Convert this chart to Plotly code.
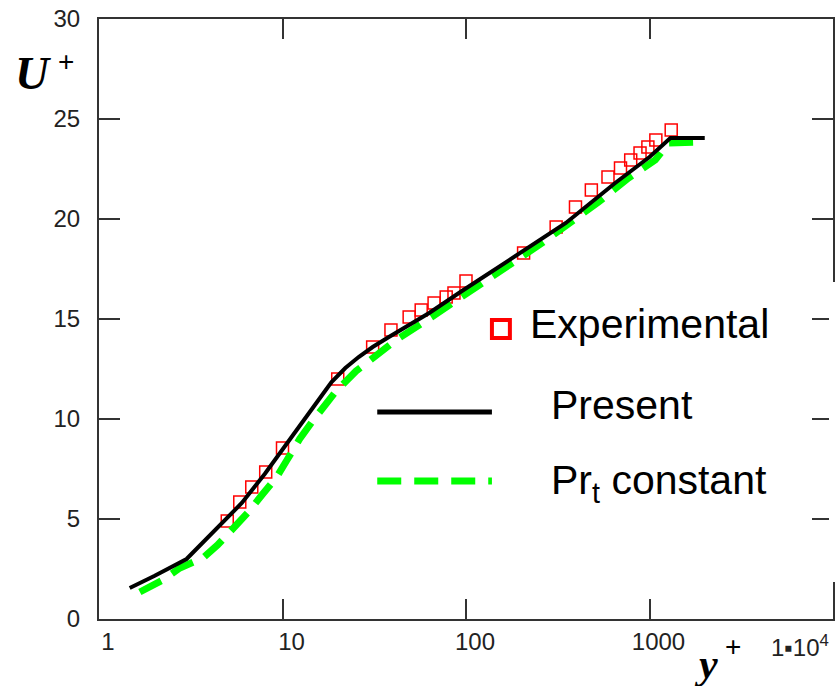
import plotly.graph_objects as go

# ---------------- data ----------------
exp_x = [5.0, 5.85, 6.8, 8.1, 10, 20, 31, 39, 49, 57, 67, 78, 86, 100,
         206, 310, 395, 482, 594, 695, 790, 888, 980, 1083, 1313]
exp_y = [4.9, 5.85, 6.6, 7.35, 8.55, 12.0, 13.6, 14.45, 15.1, 15.45, 15.8, 16.1, 16.3, 16.9,
         18.3, 19.6, 20.6, 21.45, 22.1, 22.55, 22.95, 23.3, 23.6, 23.95, 24.45]

present_x = [1.47, 2.0, 3.0, 4.0, 5.0, 6.0, 8.0, 10, 13.5, 16, 18.5, 22, 26, 31, 38, 63, 95,
             150, 200, 350, 650, 1000, 1300, 2000]
present_y = [1.55, 2.15, 3.0, 4.15, 5.05, 5.8, 7.25, 8.45, 10.1, 11.05, 11.85, 12.55, 13.1, 13.6, 14.1, 15.3, 16.4,
             17.6, 18.3, 19.8, 21.8, 23.1, 24.05, 24.05]

prt_x = [1.67, 2.23, 2.76, 3.68, 4.43, 5.6, 6.45, 7.8, 9.3, 10.5, 12.4, 14.6, 17.3, 19.6,
         25.2, 41.6, 65, 113, 260, 528, 768, 1075, 1270, 1920]
prt_y = [1.35, 1.95, 2.55, 3.05, 3.7, 4.7, 5.3, 6.25, 7.1, 7.9, 9.0, 9.9, 10.8, 11.4,
         12.4, 13.95, 15.1, 16.6, 18.8, 20.85, 22.05, 22.95, 23.8, 23.85]

x_tickvals = [1, 10, 100, 1000]
x_ticktext = ["1", "10", "100", "1000"]
x_last_label = "1\u25aa10<sup>4</sup>"
y_tickvals = [0, 5, 10, 15, 20, 25, 30]

legend_names = ["Experimental", "Present", "Pr<sub>t</sub> constant"]

GREEN = "#00ff00"
AX = "#333333"

fig = go.Figure()
fig.add_trace(go.Scatter(x=exp_x, y=exp_y, mode="markers",
                         marker=dict(symbol="square-open", size=12, color="red",
                                     line=dict(width=1.5, color="red")),
                         showlegend=False))
fig.add_trace(go.Scatter(x=prt_x, y=prt_y, mode="lines",
                         line=dict(color=GREEN, width=7, dash="24px,13px"),
                         showlegend=False))
fig.add_trace(go.Scatter(x=present_x, y=present_y, mode="lines",
                         line=dict(color="black", width=4),
                         showlegend=False))

tickfont = dict(family="Liberation Sans", size=24, color="#222")

fig.update_xaxes(type="log", range=[0, 4], showline=True, linewidth=2, linecolor=AX,
                 mirror="ticks", ticks="inside", ticklen=20, tickwidth=2, tickcolor=AX,
                 tickvals=x_tickvals, ticktext=x_ticktext, tickfont=tickfont,
                 ticklabelshift=9, ticklabelstandoff=0,
                 showgrid=False, zeroline=False)
fig.update_yaxes(range=[0, 30], showline=True, linewidth=2, linecolor=AX,
                 mirror="ticks", ticks="inside", ticklen=21, tickwidth=2, tickcolor=AX,
                 tickvals=y_tickvals, tickfont=tickfont, ticklabelstandoff=12,
                 showgrid=False, zeroline=False)

def px_x(p):
    return (p - 99) / 736.0

def px_y(p):
    return (619 - p) / 600.0

shapes = [
    # legend background hides right border
    dict(type="rect", xref="paper", yref="paper", x0=px_x(831), x1=px_x(838),
         y0=px_y(582), y1=px_y(282), fillcolor="white", line=dict(width=0), layer="above"),
    # legend samples
    dict(type="rect", xref="paper", yref="paper", x0=px_x(493), x1=px_x(511),
         y0=px_y(338), y1=px_y(320), line=dict(color="red", width=4), fillcolor="white"),
    dict(type="line", xref="paper", yref="paper", x0=px_x(378), x1=px_x(493),
         y0=px_y(412), y1=px_y(412), line=dict(color="black", width=5)),
    dict(type="line", xref="paper", yref="paper", x0=px_x(378), x1=px_x(493),
         y0=px_y(481), y1=px_y(481), line=dict(color=GREEN, width=7, dash="24px,13px")),
]

legfont = dict(family="Liberation Sans", size=41, color="black")
annotations = [
    dict(text=legend_names[0], xref="paper", yref="paper", x=px_x(529), y=px_y(324),
         xanchor="left", yanchor="middle", showarrow=False, font=legfont),
    dict(text=legend_names[1], xref="paper", yref="paper", x=px_x(550), y=px_y(405),
         xanchor="left", yanchor="middle", showarrow=False, font=legfont),
    dict(text=legend_names[2], xref="paper", yref="paper", x=px_x(550), y=px_y(483),
         xanchor="left", yanchor="middle", showarrow=False, font=legfont),
    # last x tick label
    dict(text=x_last_label, xref="paper", yref="paper", x=px_x(833), y=px_y(646),
         xanchor="right", yanchor="middle", showarrow=False, font=tickfont),
    # axis titles
    dict(text="<b><i>U</i></b>", xref="paper", yref="paper", x=px_x(33), y=px_y(73),
         xanchor="center", yanchor="middle", showarrow=False,
         font=dict(family="Liberation Serif", size=47, color="black")),
    dict(text="+", xref="paper", yref="paper", x=px_x(66), y=px_y(62),
         xanchor="center", yanchor="middle", showarrow=False,
         font=dict(family="Liberation Sans", size=28, color="black")),
    dict(text="<b><i>y</i></b>", xref="paper", yref="paper", x=px_x(708), y=px_y(664),
         xanchor="center", yanchor="middle", showarrow=False,
         font=dict(family="Liberation Serif", size=42, color="black")),
    dict(text="+", xref="paper", yref="paper", x=px_x(735), y=px_y(646),
         xanchor="center", yanchor="middle", showarrow=False,
         font=dict(family="Liberation Sans", size=28, color="black")),
]

fig.update_layout(width=836, height=686, margin=dict(l=99, r=1, t=19, b=67),
                  plot_bgcolor="white", paper_bgcolor="white",
                  shapes=shapes, annotations=annotations, showlegend=False)

fig.write_html("out.html")
